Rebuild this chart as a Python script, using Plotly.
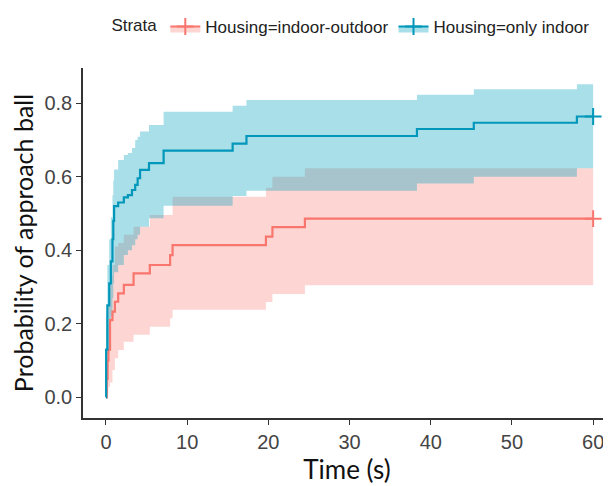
import plotly.graph_objects as go

# ---- data ----
blue_name = "Housing=only indoor"
blue_time = [0, 0.02, 0.17, 0.4, 0.6, 0.8, 0.9, 1.0, 1.5, 2.2, 2.7, 3.2, 3.6, 3.9, 4.2, 5.3, 7.1, 15.6, 17.3, 38.3, 45.3, 58.0, 60]
blue_surv = [0, 0.13, 0.25, 0.31, 0.37, 0.43, 0.48, 0.52, 0.53, 0.544, 0.55, 0.564, 0.578, 0.596, 0.619, 0.637, 0.671, 0.69, 0.711, 0.73, 0.747, 0.764, 0.764]
blue_lower = [0, 0.03, 0.12, 0.17, 0.22, 0.27, 0.31, 0.34, 0.36, 0.387, 0.40, 0.414, 0.43, 0.442, 0.464, 0.487, 0.521, 0.548, 0.562, 0.582, 0.600, 0.623, 0.623]
blue_upper = [0, 0.22, 0.36, 0.43, 0.49, 0.55, 0.59, 0.62, 0.646, 0.659, 0.665, 0.678, 0.70, 0.709, 0.723, 0.741, 0.777, 0.793, 0.809, 0.823, 0.838, 0.852, 0.852]

red_name = "Housing=indoor-outdoor"
red_time = [0, 0.1, 0.2, 0.3, 0.5, 0.8, 1.1, 1.5, 2.2, 3.4, 5.4, 7.9, 8.2, 19.7, 20.5, 24.5, 60]
red_surv = [0, 0.05, 0.10, 0.13, 0.21, 0.233, 0.26, 0.283, 0.306, 0.337, 0.36, 0.387, 0.414, 0.437, 0.463, 0.486, 0.486]
red_lower = [0, 0.0, 0.01, 0.029, 0.04, 0.074, 0.106, 0.129, 0.151, 0.17, 0.192, 0.215, 0.238, 0.259, 0.281, 0.305, 0.305]
red_upper = [0, 0.12, 0.2, 0.25, 0.33, 0.36, 0.41, 0.42, 0.442, 0.464, 0.496, 0.496, 0.546, 0.570, 0.600, 0.623, 0.623]

censor_time = 60

x_ticks = [0, 10, 20, 30, 40, 50, 60]
y_ticks = [0.0, 0.2, 0.4, 0.6, 0.8]
y_tick_labels = ["0.0", "0.2", "0.4", "0.6", "0.8"]

# ---- styles ----
RED = "#F8766D"
RED_FILL = "rgba(248,118,109,0.30)"
BLUE = "#0097BA"
BLUE_FILL = "rgba(6,164,192,0.35)"

fig = go.Figure()

def add_band(t, lo, hi, fill):
    fig.add_trace(go.Scatter(x=t, y=lo, mode="lines", line=dict(width=0, shape="hv"),
                             showlegend=False, hoverinfo="skip"))
    fig.add_trace(go.Scatter(x=t, y=hi, mode="lines", line=dict(width=0, shape="hv"),
                             fill="tonexty", fillcolor=fill, showlegend=False, hoverinfo="skip"))

add_band(red_time, red_lower, red_upper, RED_FILL)
add_band(blue_time, blue_lower, blue_upper, BLUE_FILL)

for t, s, col in [(red_time, red_surv, RED), (blue_time, blue_surv, BLUE)]:
    fig.add_trace(go.Scatter(x=t, y=s, mode="lines", line=dict(color=col, width=2.2, shape="hv"),
                             showlegend=False))
    fig.add_trace(go.Scatter(x=[censor_time], y=[s[-1]], mode="markers",
                             marker=dict(symbol="cross-thin", size=12, line=dict(color=col, width=2)),
                             showlegend=False))

# legend entries
for name, col, fill in [(red_name, RED, RED_FILL), (blue_name, BLUE, BLUE_FILL)]:
    fig.add_trace(go.Scatter(x=[None], y=[None], mode="lines+markers", name=name,
                             fill="toself", fillcolor=fill,
                             line=dict(color=col, width=2),
                             marker=dict(symbol="cross-thin", size=12, line=dict(color=col, width=2))))

# the page adds an 8px body margin, so the figure is sized 8px smaller
fig.update_layout(
    width=603, height=478,
    margin=dict(l=75, r=0, t=60, b=68),
    paper_bgcolor="white", plot_bgcolor="white",
    font=dict(family="Liberation Sans, Arial, sans-serif", color="#333333"),
    legend=dict(orientation="h", x=0.05, xanchor="left", y=0.998, yanchor="top",
                yref="container", traceorder="normal",
                title=dict(text="Strata", side="left", font=dict(size=17, color="#222222")),
                font=dict(size=17, color="#222222"), itemwidth=30, tracegroupgap=0),
    xaxis=dict(range=[-2.83, 62.2], tickvals=x_ticks, showgrid=False, zeroline=False,
               automargin=False,
               showline=True, linecolor="#333333", linewidth=1.5,
               ticks="outside", ticklen=5, tickcolor="#333333", tickwidth=1.2,
               tickfont=dict(size=20, color="#444444"),
               title=dict(text="Time (s)", font=dict(family="Lato, sans-serif", size=26, color="#111111"),
                          standoff=5)),
    yaxis=dict(range=[-0.0563, 0.896], tickvals=y_ticks, ticktext=y_tick_labels, showgrid=False,
               automargin=False,
               zeroline=False, showline=True, linecolor="#333333", linewidth=1.5,
               ticks="outside", ticklen=5, tickcolor="#333333", tickwidth=1.2,
               tickfont=dict(size=20, color="#444444"),
               title=dict(text="Probability of approach ball",
                          font=dict(family="Lato, sans-serif", size=25, color="#111111"), standoff=12)),
)

fig.write_html("out.html")
